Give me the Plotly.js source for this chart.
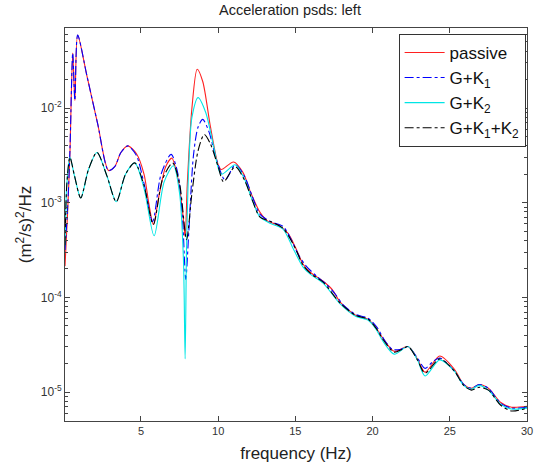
<!DOCTYPE html>
<html>
<head>
<meta charset="utf-8">
<script src="https://cdn.plot.ly/plotly-3.0.1.min.js"></script>
<style>html,body{margin:0;padding:0;background:#fff;}#chart{width:536px;height:470px;}</style>
</head>
<body>
<div id="chart"></div>
<script>
// Values: frequency (Hz) and log10 of PSD ((m^2/s)^2/Hz)
const passiveF = [0.08,0.25,0.4,0.58,0.72,0.9,1.5,2.2,2.9,3.3,3.7,4.15,4.7,5.2,5.5,5.8,6.2,6.6,7.0,7.4,7.7,7.86,8.0,8.3,8.64,9.0,9.5,10.0,10.2,11.0,11.6,12.1,12.7,13.25,13.8,14.5,15.0,15.5,16.0,16.8,17.4,17.9,18.9,19.7,20.2,20.7,21.4,22.3,22.9,23.4,24.35,25.3,25.9,26.4,26.9,27.5,28.3,29.0,30];
const passiveLog = [-3.67,-3.1,-2.47,-1.42,-1.92,-1.23,-1.66,-2.17,-2.66,-2.62,-2.47,-2.40,-2.48,-2.7,-3.0,-3.23,-2.9,-2.62,-2.53,-2.75,-3.1,-3.36,-2.8,-2.0,-1.59,-1.72,-2.2,-2.6,-2.65,-2.57,-2.68,-2.89,-3.1,-3.2,-3.23,-3.32,-3.47,-3.65,-3.74,-3.83,-3.92,-4.05,-4.19,-4.23,-4.32,-4.44,-4.57,-4.52,-4.65,-4.79,-4.62,-4.76,-4.92,-4.96,-4.92,-4.96,-5.11,-5.16,-5.15];

const gk1F = [0.08,0.25,0.4,0.58,0.72,0.9,1.5,2.2,2.9,3.3,3.7,4.15,4.7,5.2,5.75,6.3,6.95,7.4,7.7,7.9,8.1,8.4,8.7,9.0,9.4,9.9,10.45,11.1,11.7,12.2,12.7,13.4,14.2,14.7,15.2,15.7,16.4,17.0,17.6,18.1,18.9,19.7,20.3,20.8,21.3,21.8,22.3,22.9,23.4,23.9,24.35,25.3,25.9,26.4,26.9,27.5,28.3,29.0,30];
const gk1Log = [-3.5,-3.05,-2.45,-1.42,-1.92,-1.23,-1.66,-2.17,-2.66,-2.62,-2.47,-2.40,-2.5,-2.8,-3.2,-2.7,-2.49,-2.7,-3.2,-3.81,-3.3,-2.5,-2.2,-2.12,-2.25,-2.55,-2.76,-2.6,-2.72,-2.93,-3.12,-3.2,-3.25,-3.38,-3.55,-3.67,-3.78,-3.86,-3.97,-4.08,-4.18,-4.22,-4.32,-4.46,-4.55,-4.55,-4.52,-4.64,-4.75,-4.68,-4.64,-4.78,-4.92,-4.96,-4.92,-4.96,-5.12,-5.17,-5.16];

const gk2F = [0.08,0.2,0.4,0.7,1.1,1.6,2.15,2.8,3.4,4.0,4.6,5.2,5.85,6.5,7.1,7.5,7.75,7.86,7.95,8.1,8.3,8.7,9.2,9.7,10.2,11.1,11.7,12.2,12.7,13.4,14.2,14.9,15.5,16.0,16.8,17.9,18.9,19.7,20.2,20.7,21.4,22.3,22.9,23.4,24.35,25.3,25.9,26.4,26.9,27.5,28.3,29.0,30];
const gk2Log = [-3.45,-2.8,-2.52,-2.72,-2.95,-2.65,-2.47,-2.72,-2.99,-2.7,-2.58,-2.85,-3.35,-2.78,-2.61,-2.9,-3.6,-4.65,-3.5,-2.6,-2.1,-1.89,-2.05,-2.4,-2.70,-2.60,-2.75,-2.97,-3.15,-3.22,-3.28,-3.5,-3.68,-3.76,-3.85,-4.07,-4.2,-4.24,-4.33,-4.47,-4.60,-4.52,-4.66,-4.83,-4.66,-4.78,-4.93,-4.97,-4.93,-4.98,-5.13,-5.18,-5.17];

const gk12F = [0.08,0.2,0.4,0.7,1.1,1.6,2.15,2.8,3.4,4.0,4.6,5.2,5.8,6.4,7.05,7.5,7.95,8.3,8.7,9.1,9.5,10.0,10.35,11.1,11.7,12.2,12.7,13.4,14.2,14.9,15.5,16.0,16.8,17.9,18.9,19.7,20.2,20.7,21.4,21.9,22.3,22.9,23.4,24.35,25.3,25.9,26.4,26.9,27.5,28.3,29.0,30];
const gk12Log = [-3.45,-2.8,-2.52,-2.72,-2.95,-2.65,-2.47,-2.72,-2.99,-2.7,-2.58,-2.82,-3.23,-2.75,-2.58,-2.8,-3.39,-2.9,-2.45,-2.28,-2.38,-2.62,-2.78,-2.62,-2.76,-2.97,-3.15,-3.2,-3.27,-3.45,-3.66,-3.75,-3.84,-4.06,-4.19,-4.23,-4.32,-4.45,-4.58,-4.55,-4.52,-4.66,-4.8,-4.65,-4.78,-4.93,-4.98,-4.95,-4.98,-5.14,-5.2,-5.17];

const seriesNames = ['passive','G+K<sub>1</sub>','G+K<sub>2</sub>','G+K<sub>1</sub>+K<sub>2</sub>'];
const yTickVals = [1e-5,1e-4,1e-3,1e-2];
const yTickText = ['10<sup>-5</sup>','10<sup>-4</sup>','10<sup>-3</sup>','10<sup>-2</sup>'];
const xTickVals = [5,10,15,20,25,30];

const toPsd = a => a.map(v => Math.pow(10, v));

// minor (log) tick positions between decades: axis decoration only
const yMinorVals = [];
[1e-6,1e-5,1e-4,1e-3,1e-2].forEach(d => { for (let k = 2; k <= 9; k++) yMinorVals.push(k * d); });

const traces = [
  {x: passiveF, y: toPsd(passiveLog), name: seriesNames[0], line:{color:'#ff2020', width:1.1, shape:'spline', smoothing:0.8}},
  {x: gk1F, y: toPsd(gk1Log), name: seriesNames[1], line:{color:'#0000ff', width:1.1, dash:'dashdot', shape:'spline', smoothing:0.8}},
  {x: gk2F, y: toPsd(gk2Log), name: seriesNames[2], line:{color:'#00e5e5', width:1.1, shape:'spline', smoothing:0.8}},
  {x: gk12F, y: toPsd(gk12Log), name: seriesNames[3], line:{color:'#000000', width:1.1, dash:'dashdot', shape:'spline', smoothing:0.8}}
].map(t => Object.assign({type:'scatter', mode:'lines'}, t));

const fam = 'Liberation Sans, Arial, sans-serif';
const axisCommon = {
  showline:true, linecolor:'#444', linewidth:1, mirror:'ticks',
  ticks:'inside', ticklen:5, tickcolor:'#444', showgrid:false, zeroline:false
};

const layout = {
  width:536, height:470,
  paper_bgcolor:'#fff', plot_bgcolor:'#fff',
  margin:{l:65, r:9, t:28, b:49},
  font:{family:fam, color:'#222'},
  title:{text:'Acceleration psds: left', font:{size:14.5, color:'#222'}, x:0.487, xref:'paper', xanchor:'center', y:0.99, yanchor:'top'},
  xaxis: Object.assign({}, axisCommon, {
    range:[0.08, 30], tickvals:xTickVals, ticktext:xTickVals.map(String),
    tickfont:{family:fam, size:11, color:'#333'},
    title:{text:'frequency (Hz)', font:{size:17}, standoff:10}
  }),
  yaxis: Object.assign({}, axisCommon, {
    type:'log', range:[-5.306, -1.155], tickvals:yTickVals, ticktext:yTickText,
    tickfont:{family:fam, size:12, color:'#333'},
    minor:{tickmode:'array', tickvals:yMinorVals, ticks:'inside', ticklen:3, tickcolor:'#444', showgrid:false},
    title:{text:'(m<sup>2</sup>/s)<sup>2</sup>/Hz', font:{size:17}, standoff:4}
  }),
  showlegend:true,
  legend:{x:0.997, xanchor:'right', y:0.985, yanchor:'top', bgcolor:'#fff', bordercolor:'#333', borderwidth:1,
    font:{size:17, color:'#111'}, tracegroupgap:0, itemwidth:40}
};

Plotly.newPlot('chart', traces, layout, {displayModeBar:false, staticPlot:true});
</script>
</body>
</html>
